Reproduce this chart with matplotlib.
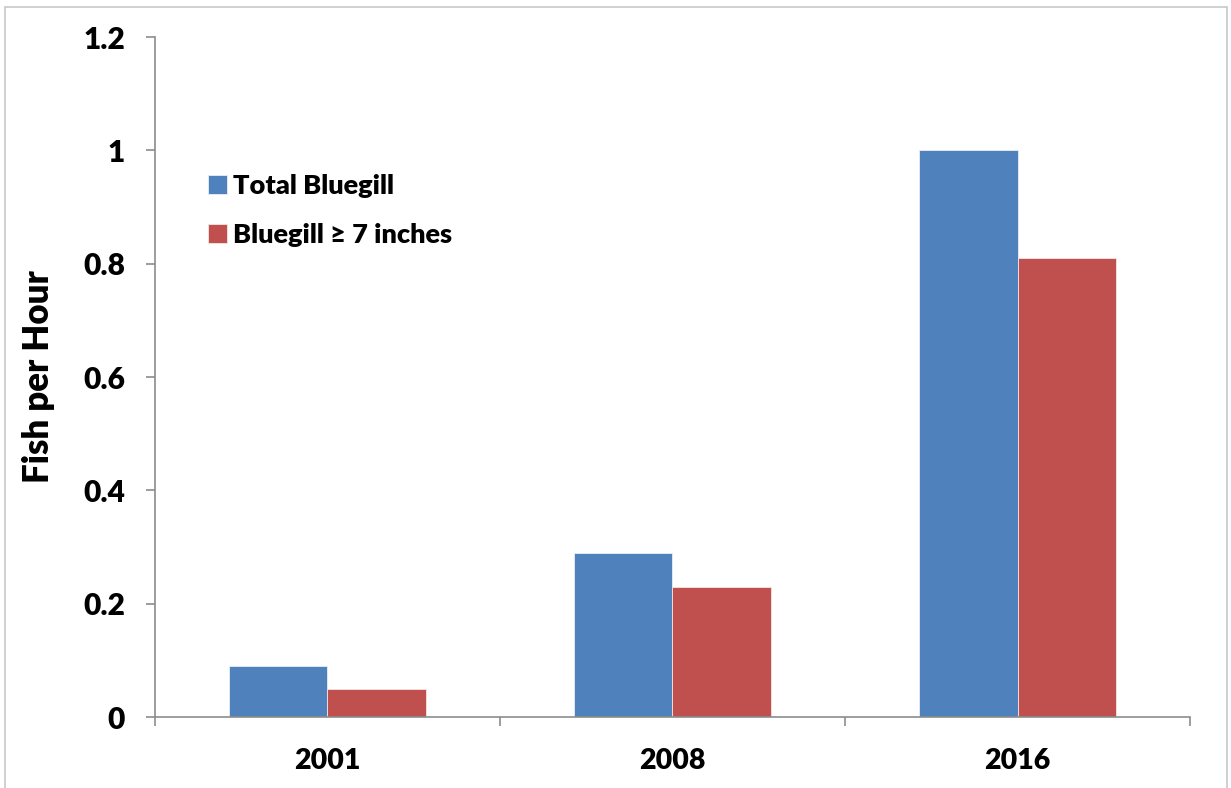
import matplotlib.pyplot as plt
import numpy as np
from matplotlib.patches import Rectangle

years = ["2001", "2008", "2016"]
total_bluegill = [0.09, 0.29, 1.0]
bluegill_7in = [0.05, 0.23, 0.81]
y_ticks = [0, 0.2, 0.4, 0.6, 0.8, 1.0, 1.2]
y_tick_labels = ["0", "0.2", "0.4", "0.6", "0.8", "1", "1.2"]

BLUE = "#4F81BD"
RED = "#C0504D"
AXIS_GRAY = "#8c8c8c"

plt.rcParams["font.family"] = ["Lato", "DejaVu Sans"]
plt.rcParams["font.weight"] = "heavy"

fig = plt.figure(figsize=(12.31, 7.88), dpi=100)
ax = fig.add_axes([0.1259, 0.0901, 0.8408, 0.8629])

# outer chart frame
fig.patches.append(Rectangle((5 / 1231, -0.01), 1222 / 1231, 0.0137 + 778 / 788,
                             transform=fig.transFigure, fill=False,
                             edgecolor="#c8c8c8", linewidth=1.2))

x = np.arange(len(years))
width = 0.2855
ax.bar(x - width / 2, total_bluegill, width, color=BLUE, edgecolor="#e8eef6",
       linewidth=0.6, label="Total Bluegill")
ax.bar(x + width / 2, bluegill_7in, width, color=RED, edgecolor="#f4e6e6",
       linewidth=0.6, label="Bluegill \u2265 7 inches")

ax.set_xlim(-0.5, len(years) - 0.5)
ax.set_ylim(0, 1.2)

ax.set_yticks(y_ticks)
ax.set_yticklabels(y_tick_labels, fontsize=21.5, fontweight="heavy")
ax.set_xticks(np.arange(len(years) + 1) - 0.5)
ax.set_xticklabels([])
ax.set_xticks(x, minor=True)
ax.set_xticklabels(years, minor=True, fontsize=20.5, fontweight="heavy")
ax.tick_params(axis="x", which="minor", length=0, pad=22)
ax.tick_params(axis="x", which="major", length=6.5, color=AXIS_GRAY, width=1.2)
ax.tick_params(axis="y", length=6.5, color=AXIS_GRAY, width=1.2, pad=15)

for side in ("top", "right"):
    ax.spines[side].set_visible(False)
for side in ("left", "bottom"):
    ax.spines[side].set_color(AXIS_GRAY)
    ax.spines[side].set_linewidth(1.2)

ax.set_ylabel("Fish per Hour", fontsize=25, fontweight="heavy", labelpad=20)

ax.legend(loc="upper left", bbox_to_anchor=(0.028, 0.835), frameon=False,
          prop={"weight": "heavy", "size": 19.5},
          handlelength=0.7, handleheight=0.7, handletextpad=0.2,
          labelspacing=0.95)

fig.savefig("out.png", dpi=100)
